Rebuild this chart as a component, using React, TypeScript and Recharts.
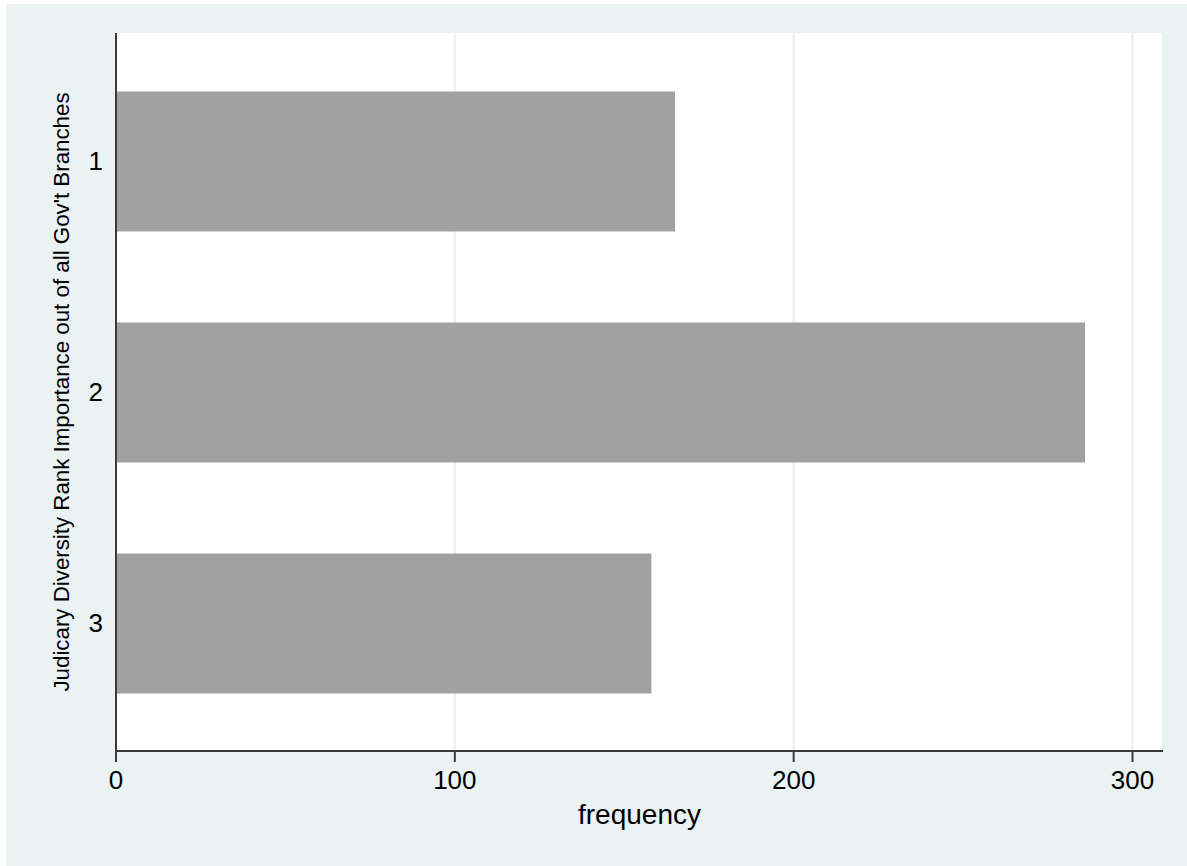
import { BarChart, Bar, XAxis, YAxis, CartesianGrid, Cell } from "recharts";

const ranks = ["1", "2", "3"];
const frequencies = [165, 286, 158];
const xTicks = [0, 100, 200, 300];

const data = ranks.map((rank, i) => ({ rank, frequency: frequencies[i] }));

const FONT = "'Liberation Sans', Arial, Helvetica, sans-serif";
const AXIS = "#3a3a3a";
const PANEL = "#eaf2f3";

export default function App() {
  return (
    <div
      style={{
        position: "absolute",
        left: 0,
        top: 0,
        width: 1187,
        height: 866,
        background: "#ffffff",
        fontFamily: FONT,
      }}
    >
      <div
        style={{
          position: "absolute",
          left: 6,
          top: 4,
          right: 0,
          bottom: 0,
          background: PANEL,
        }}
      />
      <div style={{ position: "absolute", left: 0, top: 0 }}>
        <BarChart
          width={1187}
          height={866}
          data={data}
          layout="vertical"
          margin={{ top: 33, right: 24, bottom: 114, left: 115 }}
          barSize={140}
        >
          <CartesianGrid
            horizontal={false}
            vertical={true}
            fill="#ffffff"
            stroke={PANEL}
            strokeWidth={2.5}
          />
          <XAxis
            type="number"
            dataKey="frequency"
            domain={[0, 309]}
            ticks={xTicks}
            height={1}
            axisLine={{ stroke: AXIS, strokeWidth: 2 }}
            tickLine={{ stroke: AXIS, strokeWidth: 2 }}
            tickSize={11}
            tickMargin={9}
            tick={{ fill: "#000", fontSize: 26, fontFamily: FONT }}
            label={{
              value: "frequency",
              position: "bottom",
              offset: 52,
              fill: "#000",
              fontSize: 28,
              fontFamily: FONT,
            }}
          />
          <YAxis
            type="category"
            dataKey="rank"
            width={1}
            padding={{ top: 12.5, bottom: 12.5 }}
            axisLine={{ stroke: AXIS, strokeWidth: 2 }}
            tickLine={false}
            tickSize={0}
            tickMargin={13}
            tick={{ fill: "#000", fontSize: 26, fontFamily: FONT }}
            label={{
              value: "Judicary Diversity Rank Importance out of all Gov't Branches",
              angle: -90,
              position: "left",
              offset: 54,
              fill: "#000",
              fontSize: 22.3,
              fontFamily: FONT,
              style: { textAnchor: "middle" },
            }}
          />
          <Bar dataKey="frequency" isAnimationActive={false}>
            {data.map((d) => (
              <Cell key={d.rank} fill="#a1a1a1" />
            ))}
          </Bar>
        </BarChart>
      </div>
    </div>
  );
}
